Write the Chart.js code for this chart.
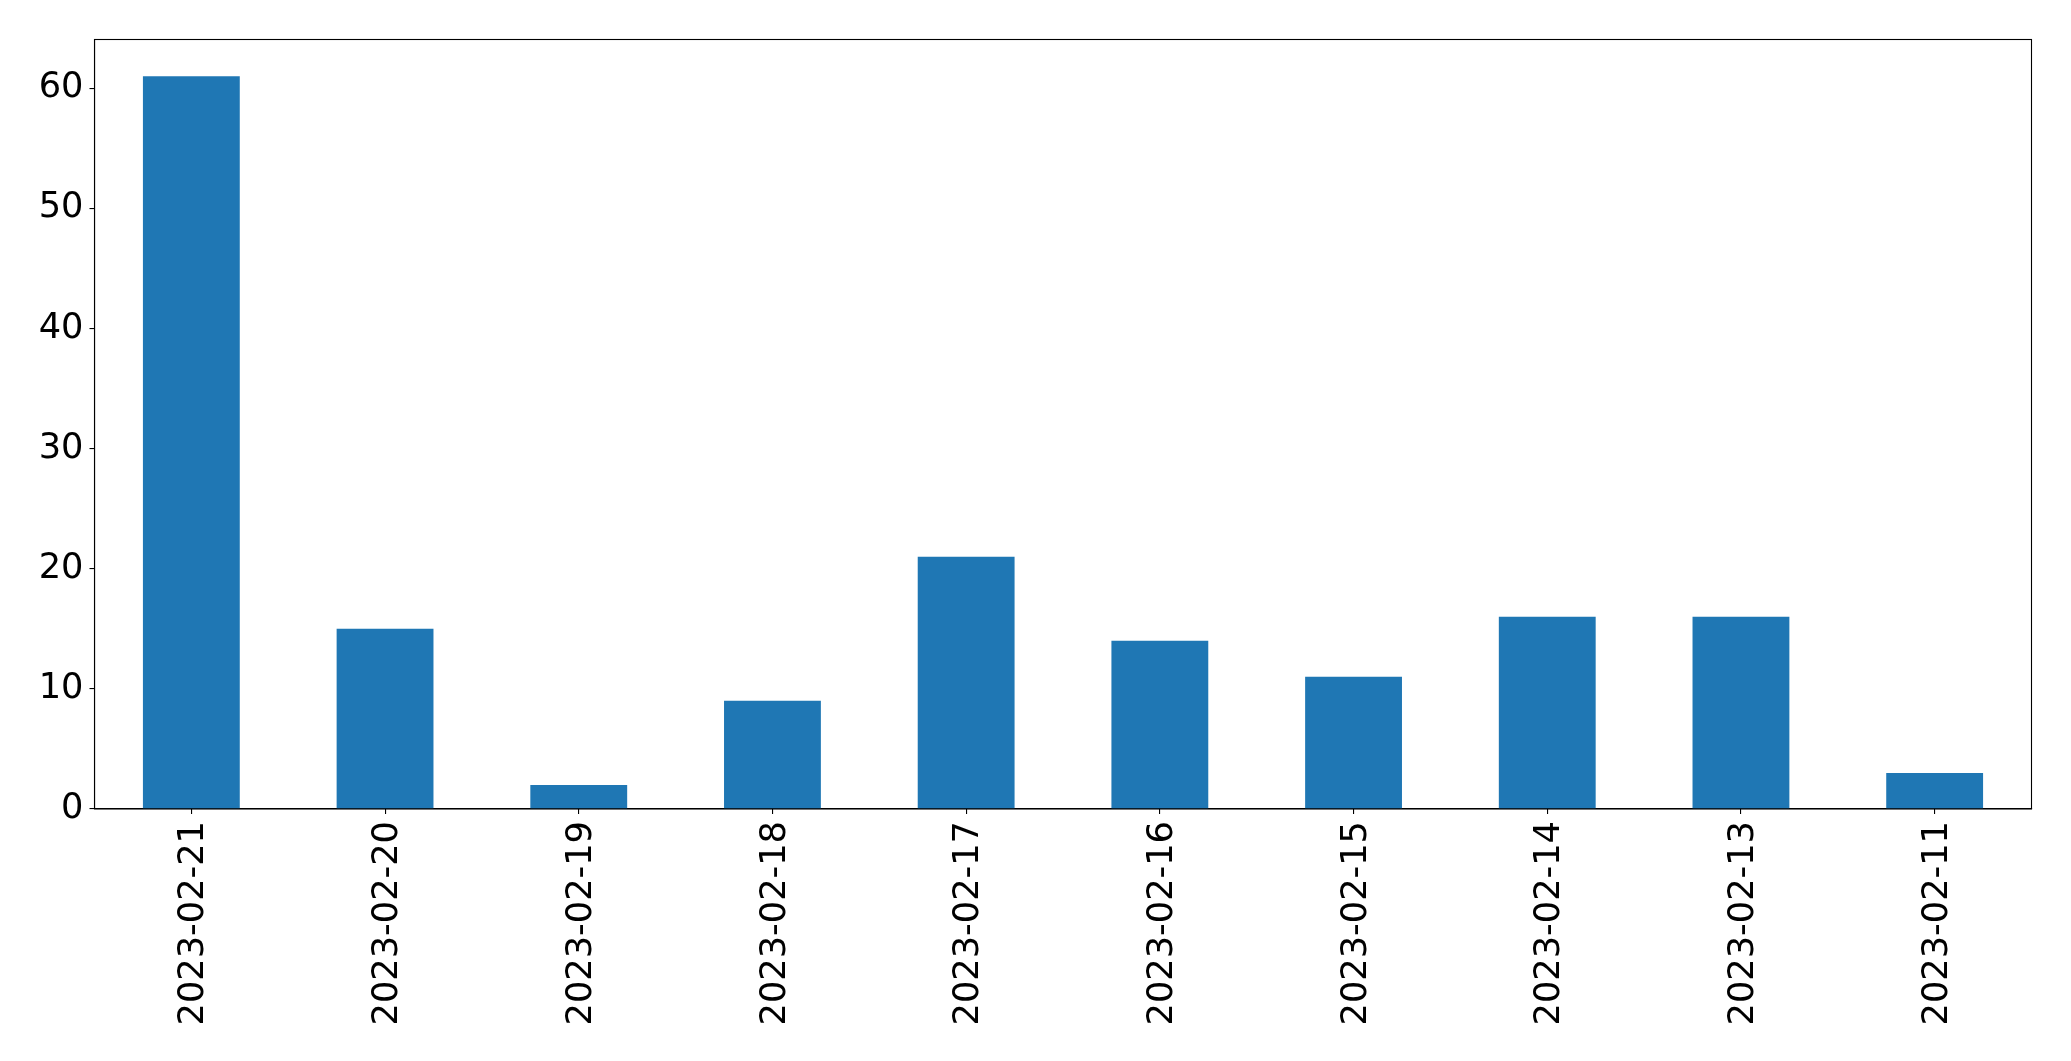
<!DOCTYPE html>
<html>
<head>
<meta charset="utf-8">
<script src="https://cdn.jsdelivr.net/npm/chart.js@4.4.0/dist/chart.umd.min.js"></script>
<style>
  html, body { margin: 0; padding: 0; background: #fff; }
  #wrap { width: 2071px; height: 1061px; }
</style>
</head>
<body>
<div id="wrap"><canvas id="barChart" width="2071" height="1061"></canvas></div>
<script>
// data
const dates = ["2023-02-21", "2023-02-20", "2023-02-19", "2023-02-18", "2023-02-17",
               "2023-02-16", "2023-02-15", "2023-02-14", "2023-02-13", "2023-02-11"];
const counts = [61, 15, 2, 9, 21, 14, 11, 16, 16, 3];
const yTicks = [0, 10, 20, 30, 40, 50, 60];

const FONT = { family: "'DejaVu Sans', sans-serif", size: 35.2 };

// draws the closed box round the plot area like matplotlib
const frameBox = {
  id: "frameBox",
  afterDraw(chart) {
    const a = chart.chartArea;
    const ctx = chart.ctx;
    ctx.save();
    ctx.strokeStyle = "#000";
    ctx.lineWidth = 1.1;
    ctx.strokeRect(a.left, a.top, a.right - a.left, a.bottom - a.top);
    ctx.restore();
  }
};

new Chart(document.getElementById("barChart"), {
  type: "bar",
  data: {
    labels: dates,
    datasets: [{
      data: counts,
      backgroundColor: "#1f77b4",
      borderWidth: 0,
      barPercentage: 0.5,
      categoryPercentage: 1.0
    }]
  },
  options: {
    responsive: false,
    devicePixelRatio: 1,
    animation: false,
    layout: { padding: { top: 39.5, right: 39.5, left: 0, bottom: 0 } },
    plugins: { legend: { display: false }, tooltip: { enabled: false } },
    scales: {
      x: {
        offset: true,
        grid: { offset: false, drawOnChartArea: false, drawTicks: true, tickLength: 5, color: "#000", lineWidth: 1.1 },
        border: { display: true, color: "#000", width: 1.1 },
        ticks: {
          color: "#000",
          font: FONT,
          autoSkip: false,
          minRotation: 90,
          maxRotation: 90,
          padding: 7,
          labelOffset: 3
        },
        afterFit(scale) { scale.height = 252; }
      },
      y: {
        min: 0,
        max: 64.05,
        grid: { drawOnChartArea: false, drawTicks: true, tickLength: 5, color: "#000", lineWidth: 1.1 },
        border: { display: true, color: "#000", width: 1.1 },
        ticks: {
          color: "#000",
          font: FONT,
          includeBounds: false,
          padding: 6
        },
        afterBuildTicks(scale) {
          scale.ticks = yTicks.map(v => ({ value: v }));
        },
        afterFit(scale) { scale.width = 94.5; }
      }
    }
  },
  plugins: [frameBox]
});
</script>
</body>
</html>
